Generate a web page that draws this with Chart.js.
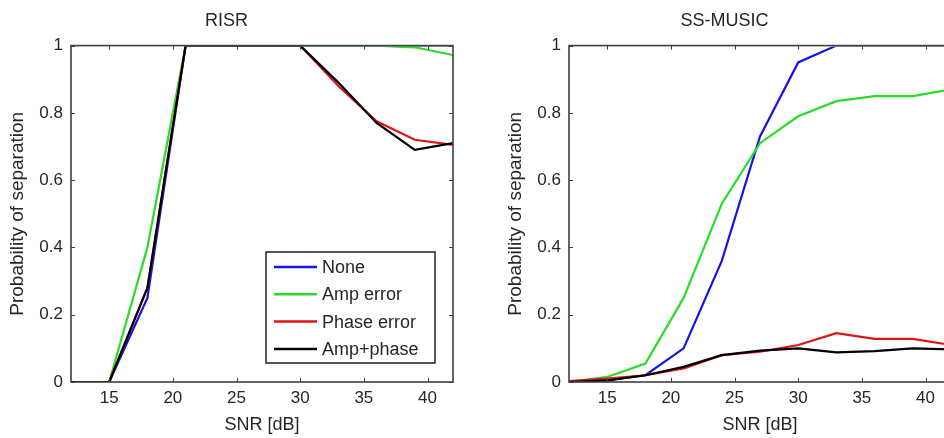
<!DOCTYPE html>
<html>
<head>
<meta charset="utf-8">
<title>RISR / SS-MUSIC</title>
<script src="https://cdn.jsdelivr.net/npm/chart.js@4.4.1/dist/chart.umd.min.js"></script>
<style>
  body { margin: 0; background: #fff; overflow: hidden; }
  .panel { position: absolute; top: 0; height: 438px; }
  #left { left: 0; width: 470px; }
  #right { left: 498px; width: 470px; }
</style>
</head>
<body>
<div class="panel" id="left"><canvas id="risrChart"></canvas></div>
<div class="panel" id="right"><canvas id="musicChart"></canvas></div>
<script>
// SNR points (dB)
const snr = [12, 15, 18, 21, 24, 27, 30, 33, 36, 39, 42];
const xTicks = [15, 20, 25, 30, 35, 40];
const yTicks = [0, 0.2, 0.4, 0.6, 0.8, 1];

const seriesNames = ['None', 'Amp error', 'Phase error', 'Amp+phase'];
const seriesColors = ['#1414e6', '#28dc28', '#e01414', '#000000'];

// RISR
const risrNone  = [0, 0, 0.25, 1, 1, 1, 1, 1, 1, 1, 1];
const risrAmp   = [0, 0, 0.40, 1, 1, 1, 1, 1, 1, 0.995, 0.972];
const risrPhase = [0, 0, 0.28, 1, 1, 1, 1, 0.88, 0.775, 0.72, 0.705];
const risrBoth  = [0, 0, 0.28, 1, 1, 1, 1, 0.89, 0.77, 0.69, 0.71];

// SS-MUSIC
const musicNone  = [0, 0.005, 0.02, 0.10, 0.36, 0.73, 0.95, 1, 1, 1, 1];
const musicAmp   = [0, 0.015, 0.055, 0.25, 0.53, 0.71, 0.79, 0.835, 0.85, 0.85, 0.87];
const musicPhase = [0.003, 0.01, 0.02, 0.04, 0.08, 0.09, 0.11, 0.145, 0.128, 0.128, 0.11];
const musicBoth  = [0, 0.005, 0.02, 0.045, 0.08, 0.093, 0.10, 0.088, 0.092, 0.10, 0.097];

const textColor = '#262626';
const fontFamily = '"Liberation Sans", Arial, sans-serif';

// box around the plot area + inward ticks on all four sides (matlab style)
const boxPlugin = {
  id: 'box',
  afterDatasetsDraw(chart) {
    const {ctx, chartArea: a, scales} = chart;
    ctx.save();
    ctx.strokeStyle = '#404040';
    ctx.lineWidth = 1.6;
    ctx.strokeRect(a.left, a.top, a.right - a.left, a.bottom - a.top);
    ctx.lineWidth = 1;
    ctx.beginPath();
    xTicks.forEach(v => {
      let px = Math.round(scales.x.getPixelForValue(v)) + 0.5;
      ctx.moveTo(px, a.bottom); ctx.lineTo(px, a.bottom - 4);
      ctx.moveTo(px, a.top); ctx.lineTo(px, a.top + 4);
    });
    yTicks.forEach(v => {
      let py = Math.round(scales.y.getPixelForValue(v)) + 0.5;
      ctx.moveTo(a.left, py); ctx.lineTo(a.left + 4, py);
      ctx.moveTo(a.right, py); ctx.lineTo(a.right - 4, py);
    });
    ctx.stroke();
    ctx.restore();
  }
};

// legend box inside the plot (lower right)
const boxLegend = {
  id: 'boxLegend',
  afterDraw(chart, args, opts) {
    if (!opts.show) return;
    const {ctx, chartArea: a} = chart;
    let x = a.right - 187, y = a.bottom - 130, w = 169, h = 111;
    ctx.save();
    ctx.fillStyle = '#fff';
    ctx.fillRect(x, y, w, h);
    ctx.strokeStyle = '#202020';
    ctx.lineWidth = 1.5;
    ctx.strokeRect(x, y, w, h);
    ctx.font = '18px ' + fontFamily;
    ctx.textBaseline = 'middle';
    ctx.fillStyle = textColor;
    chart.data.datasets.forEach((ds, i) => {
      let ly = y + 15 + i * 27.3;
      ctx.strokeStyle = ds.borderColor;
      ctx.lineWidth = 2.5;
      ctx.beginPath();
      ctx.moveTo(x + 8, ly); ctx.lineTo(x + 51, ly);
      ctx.stroke();
      ctx.fillText(ds.label, x + 56, ly + 1);
    });
    ctx.restore();
  }
};

function makeChart(id, title, values, showLegend) {
  let datasets = values.map((vals, i) => ({
    label: seriesNames[i],
    data: vals,
    borderColor: seriesColors[i],
    backgroundColor: seriesColors[i],
    borderWidth: 2.2,
    pointRadius: 0,
    tension: 0,
    clip: { left: 0, top: -1, right: 0, bottom: 0 },
    order: 3 - i
  }));

  return new Chart(document.getElementById(id), {
    type: 'line',
    data: { labels: snr, datasets: datasets },
    options: {
      responsive: true,
      maintainAspectRatio: false,
      animation: false,
      devicePixelRatio: 1,
      layout: { padding: { left: 0, right: 17, top: 0, bottom: 0 } },
      plugins: {
        legend: { display: false },
        tooltip: { enabled: false },
        title: {
          display: true,
          text: title,
          color: textColor,
          font: { family: fontFamily, size: 18, weight: 'normal' },
          padding: { top: 10, bottom: 14 }
        },
        boxLegend: { show: showLegend }
      },
      scales: {
        x: {
          type: 'linear',
          min: 12,
          max: 42,
          grid: { display: false, drawTicks: false },
          border: { display: false },
          afterBuildTicks: s => { s.ticks = xTicks.map(v => ({ value: v })); },
          afterFit: s => { s.height = 56; },
          ticks: {
            color: textColor,
            padding: 6,
            maxRotation: 0,
            font: { family: fontFamily, size: 17 }
          },
          title: {
            display: true,
            text: 'SNR [dB]',
            color: textColor,
            font: { family: fontFamily, size: 18 },
            padding: { top: 0, bottom: 2 }
          }
        },
        y: {
          min: 0,
          max: 1,
          grid: { display: false, drawTicks: false },
          border: { display: false },
          afterBuildTicks: s => { s.ticks = yTicks.map(v => ({ value: v })); },
          afterFit: s => { s.width = 71; },
          ticks: {
            color: textColor,
            padding: 8,
            font: { family: fontFamily, size: 17 },
            callback: v => String(+v.toFixed(1))
          },
          title: {
            display: true,
            text: 'Probability of separation',
            color: textColor,
            font: { family: fontFamily, size: 19 },
            padding: { top: 6, bottom: 0 }
          }
        }
      }
    },
    plugins: [boxPlugin, boxLegend]
  });
}

makeChart('risrChart', 'RISR', [risrNone, risrAmp, risrPhase, risrBoth], true);
makeChart('musicChart', 'SS-MUSIC', [musicNone, musicAmp, musicPhase, musicBoth], false);
</script>
</body>
</html>
